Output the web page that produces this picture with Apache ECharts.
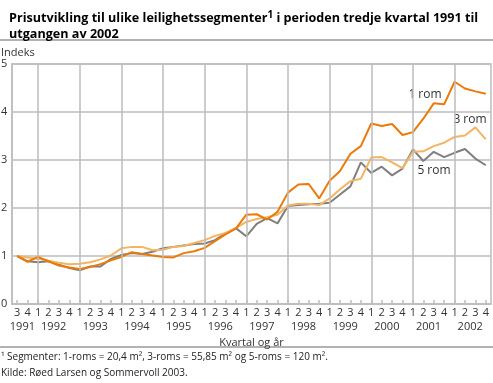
<!DOCTYPE html>
<html>
<head>
<meta charset="utf-8">
<script src="https://cdn.jsdelivr.net/npm/echarts@6/dist/echarts.min.js"></script>
<style>html,body{margin:0;padding:0;background:#fff}#c{width:493px;height:383px}</style>
</head>
<body>
<div id="c"></div>
<script>
const categories = [
 '1991 3','1991 4',
 '1992 1','1992 2','1992 3','1992 4',
 '1993 1','1993 2','1993 3','1993 4',
 '1994 1','1994 2','1994 3','1994 4',
 '1995 1','1995 2','1995 3','1995 4',
 '1996 1','1996 2','1996 3','1996 4',
 '1997 1','1997 2','1997 3','1997 4',
 '1998 1','1998 2','1998 3','1998 4',
 '1999 1','1999 2','1999 3','1999 4',
 '2000 1','2000 2','2000 3','2000 4',
 '2001 1','2001 2','2001 3','2001 4',
 '2002 1','2002 2','2002 3','2002 4'
];
const rom1 = [1.00,0.88,0.98,0.89,0.80,0.76,0.73,0.77,0.83,0.91,0.98,1.08,1.04,1.01,0.98,0.97,1.06,1.10,1.17,1.31,1.45,1.57,1.86,1.87,1.76,1.92,2.32,2.49,2.50,2.20,2.57,2.77,3.13,3.29,3.76,3.71,3.75,3.52,3.58,3.86,4.18,4.16,4.63,4.49,4.43,4.38];
const rom3 = [1.00,0.97,0.94,0.90,0.86,0.83,0.84,0.87,0.93,1.01,1.16,1.19,1.19,1.12,1.13,1.19,1.21,1.27,1.33,1.42,1.48,1.58,1.71,1.77,1.81,1.86,2.05,2.09,2.09,2.06,2.20,2.39,2.56,2.61,3.05,3.06,2.95,2.83,3.17,3.18,3.29,3.36,3.48,3.51,3.68,3.43];
const rom5 = [1.00,0.89,0.87,0.89,0.82,0.75,0.70,0.78,0.78,0.94,1.02,1.06,1.04,1.09,1.16,1.19,1.22,1.25,1.26,1.33,1.47,1.58,1.41,1.67,1.79,1.68,2.04,2.06,2.08,2.09,2.11,2.28,2.45,2.95,2.73,2.86,2.68,2.82,3.22,2.98,3.17,3.06,3.15,3.23,3.03,2.89];
const yTicks = [0,1,2,3,4,5];
const yearStarts = categories.filter(c => c.endsWith(' 1'));

const FONT = 'Open Sans';
const chart = echarts.init(document.getElementById('c'), null, {renderer:'canvas'});
const gridColor = '#bdbdbd';

chart.setOption({
  animation: false,
  title: {
    text: 'Prisutvikling til ulike leilighetssegmenter{s|1} i perioden tredje kvartal 1991 til\nutgangen av 2002',
    left: 4, top: 5,
    textStyle: {
      fontFamily: FONT, fontSize: 12.6, fontWeight: 'bold', color: '#000', lineHeight: 16,
      rich: { s: { fontFamily: FONT, fontSize: 10, fontWeight: 'bold', color: '#000', padding: [0,0,6,0] } }
    }
  },
  grid: { left: 12, right: 2, top: 64, bottom: 79, show: true, borderColor: gridColor, borderWidth: 1.5, outerBoundsMode: 'none', containLabel: false },
  xAxis: {
    type: 'category', data: categories, boundaryGap: true,
    name: 'Kvartal og år', nameLocation: 'middle', nameGap: 28,
    nameTextStyle: { fontFamily: FONT, fontSize: 11, color: '#333' },
    axisLine: { show: true, lineStyle: { color: gridColor, width: 1.5 } },
    axisTick: { show: true, inside: true, length: 4, alignWithLabel: true, lineStyle: { color: gridColor, width: 1.5 } },
    splitLine: { show: false },
    axisLabel: { interval: 0, margin: 2, fontFamily: FONT, fontSize: 11, color: '#333',
      formatter: (v, i) => {
        const [y, q] = v.split(' ');
        if (i === 0 || (q === '2' && i > 1)) return '{q|' + q + '}\n{y|' + y + '}';
        return '{q|' + q + '}';
      },
      rich: {
        q: { fontFamily: FONT, fontSize: 11, color: '#333', lineHeight: 14, align: 'center' },
        y: { fontFamily: FONT, fontSize: 11, color: '#333', lineHeight: 14, align: 'center', padding: [0,0,0,10.4] }
      }
    }
  },
  yAxis: {
    type: 'value', min: yTicks[0], max: yTicks[yTicks.length-1], interval: 1,
    axisLine: { show: true, lineStyle: { color: gridColor, width: 1.5 } },
    axisTick: { show: false },
    splitLine: { show: true, lineStyle: { color: gridColor, width: 1.5 } },
    axisLabel: { align: 'left', margin: 11, fontFamily: FONT, fontSize: 11, color: '#333' }
  },
  series: [
    { name: 'grid', type: 'line', data: [], z: 1, silent: true,
      markLine: { silent: true, symbol: 'none', label: { show: false },
        lineStyle: { color: gridColor, width: 1.5, type: 'solid' },
        data: yearStarts.map(c => ({ xAxis: c })) } },
    { name: '5 rom', type: 'line', data: rom5, symbol: 'none', lineStyle: { color: '#7f7f7f', width: 2 }, itemStyle: { color: '#7f7f7f' } },
    { name: '3 rom', type: 'line', data: rom3, symbol: 'none', lineStyle: { color: '#f5b462', width: 2 }, itemStyle: { color: '#f5b462' } },
    { name: '1 rom', type: 'line', data: rom1, symbol: 'none', lineStyle: { color: '#ec7a08', width: 2 }, itemStyle: { color: '#ec7a08' } }
  ],
  graphic: [
    { type: 'line', shape: { x1: 0, y1: 40, x2: 493, y2: 40 }, style: { stroke: '#999999', lineWidth: 1.5 } },
    { type: 'line', shape: { x1: 0, y1: 347, x2: 493, y2: 347 }, style: { stroke: '#999999', lineWidth: 1.5 } },
    { type: 'text', left: 1, top: 47, style: { text: 'Indeks', font: '11px "Open Sans"', fill: '#333' } },
    { type: 'text', x: 425, y: 95, style: { text: '1 rom', font: '12px "Open Sans"', fill: '#333', align: 'center', verticalAlign: 'middle' } },
    { type: 'text', x: 470, y: 120, style: { text: '3 rom', font: '12px "Open Sans"', fill: '#333', align: 'center', verticalAlign: 'middle' } },
    { type: 'text', x: 434, y: 171, style: { text: '5 rom', font: '12px "Open Sans"', fill: '#333', align: 'center', verticalAlign: 'middle' } },
    { type: 'text', left: 1, top: 352, style: { text: '¹ Segmenter: 1-roms = 20,4 m², 3-roms = 55,85 m² og 5-roms = 120 m².', font: '10px "Open Sans"', fill: '#222' } },
    { type: 'text', left: 1, top: 368, style: { text: 'Kilde: Røed Larsen og Sommervoll 2003.', font: '10px "Open Sans"', fill: '#222' } }
  ]
});
</script>
</body>
</html>
